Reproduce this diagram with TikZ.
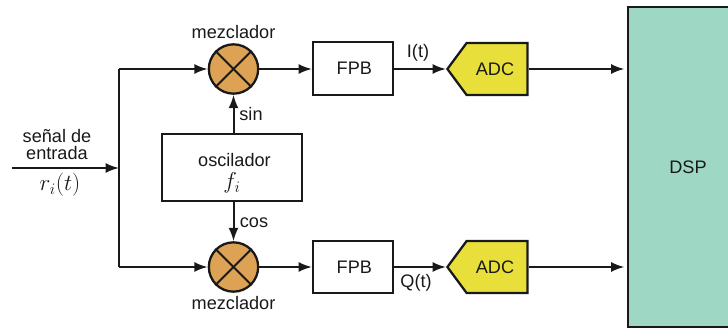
\documentclass[tikz,border=0pt]{standalone}
\usepackage{fontspec}
\setmainfont{Liberation Sans}
\usetikzlibrary{arrows.meta,shapes.symbols}
\definecolor{mixcolor}{HTML}{DDA253}
\definecolor{adccolor}{HTML}{E9DF3A}
\definecolor{dspcolor}{HTML}{9ED8C4}
\tikzset{
  every node/.style={font=\fontsize{13.6}{14}\selectfont, text=black!90},
  blockbox/.style={rectangle,draw=black!90,line width=1.6pt,fill=white,inner sep=0pt},
  mixer/.style={circle,draw=black!90,line width=1.7pt,fill=mixcolor,minimum size=37pt,inner sep=0pt},
  adcbox/.style={signal,signal to=west,signal pointer angle=107,draw=black!90,line width=1.7pt,fill=adccolor,
    minimum width=60pt,minimum height=39pt,inner sep=0pt},
  wire/.style={line width=1.5pt,draw=black!90,-{Latex[length=10pt,width=7.5pt]}},
  plainwire/.style={line width=1.5pt,draw=black!90}
}
\begin{document}
\begin{tikzpicture}[x=0.75pt,y=-0.75pt]
\useasboundingbox (0,0) rectangle (728,328);
\node (dsp) at (688,167) [rectangle,draw=black!90,line width=1.3pt,fill=dspcolor,minimum width=90pt,minimum height=240pt] {DSP};
\node (osc) at (232,167.5) [blockbox,minimum width=105pt,minimum height=50pt] {};
\node (osctext) at (234.5,160) {oscilador};
\node (oscfreq) at (232,183) {\LARGE$f_i$};
\node (mixI) at (233.5,69) [mixer] {};
\node (mixQ) at (233.5,267) [mixer] {};
\node (fpbI) at (353,68.5) [blockbox,minimum width=60pt,minimum height=39.5pt] {\hspace*{2pt}FPB};
\node (fpbQ) at (353,267) [blockbox,minimum width=60pt,minimum height=39.5pt] {\hspace*{2pt}FPB};
\node (adcI) at (497,69) [adcbox] {\hspace*{-3pt}ADC};
\node (adcQ) at (497,267) [adcbox] {\hspace*{-3pt}ADC};

\node (mixIlabel) at (233.5,32) {mezclador};
\node (mixQlabel) at (233.5,303) {mezclador};
\node (sinlabel) at (251,114) {sin};
\node (coslabel) at (254,223) {cos};
\node (Ilabel) at (418,53) {I(t)};
\node (Qlabel) at (416,283) {Q(t)};
\node (inlabel) at (57,144.5) [align=center] {señal de\\[-0.75pt]entrada};
\node (rlabel) at (60,185) {\LARGE$r_i(t)$};

\coordinate (start) at (12,168);
\coordinate (bus) at (119,168);
\coordinate (busI) at (119,69);
\coordinate (busQ) at (119,267);

\draw[wire] (start) to (bus);
\draw[plainwire] (busI) to (busQ);
\draw[wire] (busI) to (mixI);
\draw[wire] (busQ) to (mixQ);
\draw[wire] (osc.north -| mixI) to (mixI);
\draw[wire] (osc.south -| mixQ) to (mixQ);
\draw[wire] (mixI) to (fpbI.west |- mixI);
\draw[wire] (mixQ) to (fpbQ.west |- mixQ);
\draw[wire] (fpbI.east |- adcI) to (adcI.west);
\draw[wire] (fpbQ.east |- adcQ) to (adcQ.west);
\draw[wire,shorten >=2pt] (adcI.east) to (dsp.west |- adcI);
\draw[wire,shorten >=2pt] (adcQ.east) to (dsp.west |- adcQ);

\draw[plainwire] (mixI.45) to (mixI.225);
\draw[plainwire] (mixI.135) to (mixI.315);
\draw[plainwire] (mixQ.45) to (mixQ.225);
\draw[plainwire] (mixQ.135) to (mixQ.315);
\end{tikzpicture}
\end{document}
